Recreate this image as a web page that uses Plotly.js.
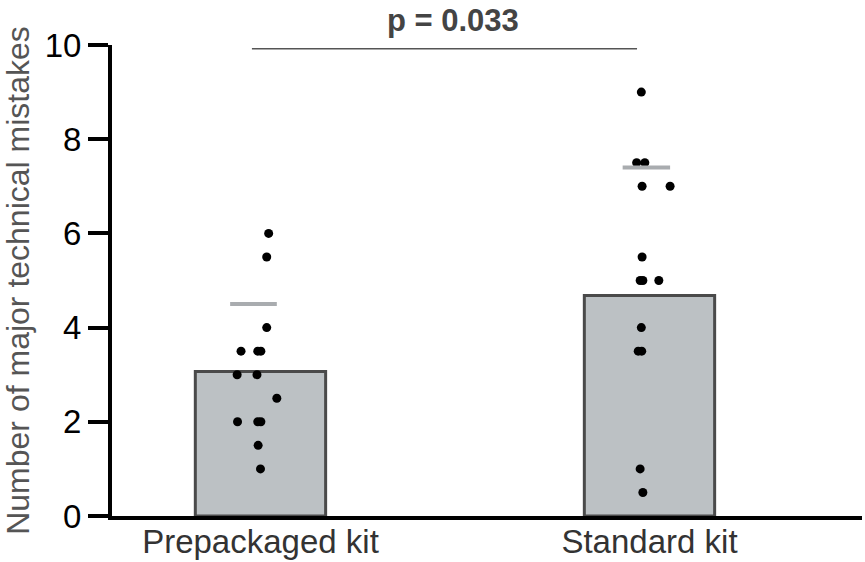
<!DOCTYPE html>
<html>
<head>
<meta charset="utf-8">
<script src="https://cdn.plot.ly/plotly-3.0.1.min.js"></script>
<style>html,body{margin:0;padding:0;background:#fff;}#chart{width:865px;height:562px;}</style>
</head>
<body>
<div id="chart"></div>
<script>
// ---- data ----
const categories = ["Prepackaged kit", "Standard kit"];
const barValues = [3.07, 4.68];
const upperLineValues = [4.5, 7.4];
const prepackagedPoints = [6, 5.5, 4, 3.5, 3.5, 3.5, 3, 3, 2.5, 2, 2, 2, 1.5, 1];
const prepackagedJitter = [0.021, 0.016, 0.016, -0.050, -0.007, 0.001, -0.060, -0.009, 0.042, -0.059, -0.007, 0.001, -0.006, 0.000];
const standardPoints = [9, 7.5, 7.5, 7, 7, 5.5, 5, 5, 5, 4, 3.5, 3.5, 1, 0.5];
const standardJitter = [-0.021, -0.033, -0.012, -0.019, 0.053, -0.019, -0.024, -0.017, 0.024, -0.021, -0.029, -0.020, -0.024, -0.017];
const pValueText = "p = 0.033";
const yTickVals = [0, 2, 4, 6, 8, 10];

// ---- drawing ----
const catPos = categories.map((c, i) => i);
const FONT = "Liberation Sans, Arial, Helvetica, sans-serif";

const traces = [];
traces.push({
  type: "bar",
  x: catPos,
  y: barValues,
  width: 0.335,
  marker: {color: "#bcc1c4", line: {color: "#4a4a4a", width: 3}},
  hoverinfo: "skip"
});
const groups = [[prepackagedPoints, prepackagedJitter], [standardPoints, standardJitter]];
groups.forEach(([vals, jit], gi) => {
  traces.push({
    type: "scatter",
    mode: "markers",
    x: vals.map((v, i) => catPos[gi] + jit[i]),
    y: vals,
    marker: {color: "#000", size: 9},
    cliponaxis: false,
    hoverinfo: "skip"
  });
});
const lineOffsets = [[-0.078, 0.042], [-0.069, 0.053]];
upperLineValues.forEach((v, gi) => {
  traces.push({
    type: "scatter",
    mode: "lines",
    x: [catPos[gi] + lineOffsets[gi][0], catPos[gi] + lineOffsets[gi][1]],
    y: [v, v],
    line: {color: "#a9acaf", width: 4},
    hoverinfo: "skip"
  });
});

const layout = {
  width: 865,
  height: 562,
  margin: {l: 112, r: 3, t: 45, b: 46},
  paper_bgcolor: "#fff",
  plot_bgcolor: "#fff",
  showlegend: false,
  font: {family: FONT},
  xaxis: {
    range: [-0.3817, 1.5463],
    tickvals: catPos,
    ticktext: categories,
    ticks: "",
    ticklabelstandoff: -7,
    showgrid: false,
    zeroline: false,
    showline: true,
    linecolor: "#000",
    linewidth: 4,
    tickfont: {family: FONT, size: 33, color: "#333"},
    fixedrange: true
  },
  yaxis: {
    range: [0, 10],
    tickvals: yTickVals,
    ticks: "outside",
    ticklen: 20,
    tickwidth: 4,
    tickcolor: "#000",
    showgrid: false,
    zeroline: false,
    showline: true,
    linecolor: "#000",
    linewidth: 4,
    tickfont: {family: FONT, size: 33, color: "#000"},
    title: {text: "Number of major technical mistakes", font: {family: FONT, size: 32, color: "#555"}, standoff: 8},
    fixedrange: true
  },
  shapes: [{
    type: "line", xref: "x", yref: "y",
    x0: -0.022, x1: 0.968, y0: 9.92, y1: 9.92,
    line: {color: "#555", width: 1.5}
  }],
  annotations: [{
    text: "<b>" + pValueText + "</b>",
    xref: "x", yref: "paper",
    x: 0.495, y: 1.051,
    xanchor: "center", yanchor: "middle",
    showarrow: false,
    font: {family: FONT, size: 31, color: "#444"}
  }]
};

Plotly.newPlot("chart", traces, layout, {displayModeBar: false, staticPlot: true});
</script>
</body>
</html>
